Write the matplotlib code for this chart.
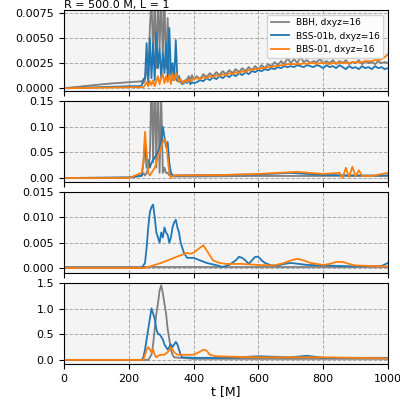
import matplotlib
matplotlib.use("Agg")
import matplotlib.pyplot as plt

# ---- Panel 1 data ----
t1 = list(range(0, 200, 10)) + list(range(200, 405, 5)) + list(range(410, 1010, 10))
p1_bbh = [0,0.00003,0.00006,0.0001,0.00013,0.00016,0.0002,0.00023,0.00026,0.0003,0.00033,0.00036,0.0004,0.00042,0.00045,0.00048,0.0005,0.00052,0.00055,0.00057,
 0.0006,0.0006,0.00062,0.00063,0.00064,0.00065,0.00066,0.00068,0.0007,0.0005,0.0008,0.002,0.001,0.006,0.009,0.003,0.009,0.002,0.009,0.004,0.009,0.003,0.009,0.002,0.007,0.001,0.002,0.0008,0.0012,0.0009,0.0007,0.0009,0.0008,0.0006,0.0007,0.0008,0.0009,0.0012,0.0008,0.0013,0.0009,
 0.0012,0.0009,0.0014,0.0011,0.0015,0.0012,0.0016,0.0013,0.0017,0.0014,0.0018,0.0015,0.0019,0.0016,0.0020,0.0017,0.0021,0.0018,0.0022,0.0019,0.0023,0.0020,0.0024,0.0022,0.0026,0.0023,0.0027,0.0024,0.0030,0.0025,0.0029,0.0025,0.0031,0.0026,0.0028,0.0025,0.0027,0.0026,0.0029,0.0025,0.0027,0.0025,0.0028,0.0024,0.0027,0.0025,0.0028,0.0024,0.0026,0.0025,0.0028,0.0024,0.0027,0.0025,0.0026,0.0024,0.0027,0.0025,0.0026,0.0025]
p1_bss01b = [0,0,0.00001,0.00002,0.00003,0.00004,0.00005,0.00006,0.00007,0.00008,0.00009,0.0001,0.00011,0.00012,0.00013,0.00014,0.00015,0.00016,0.00017,0.00018,
 0.0002,0.0002,0.0002,0.0002,0.0002,0.0002,0.0002,0.0002,0.0003,0.0009,0.001,0.0045,0.0005,0.005,0.001,0.0045,0.0008,0.0055,0.002,0.004,0.001,0.0035,0.0015,0.0045,0.001,0.006,0.0015,0.0025,0.0008,0.0048,0.0008,0.0012,0.0006,0.0004,0.0005,0.0007,0.0005,0.0009,0.0004,0.0006,0.0005,
 0.0006,0.0008,0.0007,0.0010,0.0008,0.0011,0.0009,0.0012,0.0010,0.0013,0.0011,0.0014,0.0012,0.0015,0.0013,0.0016,0.0014,0.0017,0.0016,0.0018,0.0017,0.0019,0.0018,0.0020,0.0019,0.0021,0.0020,0.0022,0.0021,0.0022,0.0021,0.0023,0.0022,0.0021,0.0023,0.0022,0.0021,0.0023,0.0022,0.0020,0.0023,0.0021,0.0022,0.0020,0.0023,0.0021,0.0019,0.0022,0.0020,0.0021,0.0019,0.0022,0.0020,0.0021,0.0019,0.0022,0.0020,0.0021,0.0019,0.0020]
p1_bbs01 = [0,0,0,0.00001,0.00001,0.00002,0.00002,0.00003,0.00003,0.00004,0.00004,0.00005,0.00005,0.00006,0.00006,0.00007,0.00007,0.00008,0.00008,0.00009,
 0.0001,0.0001,0.0001,0.0001,0.0001,0.0001,0.0001,0.0001,0.0001,0.0001,0.0003,0.0006,0.0002,0.0007,0.0003,0.0008,0.0002,0.0007,0.0012,0.0004,0.001,0.0014,0.0005,0.0012,0.0006,0.0013,0.0004,0.0014,0.0008,0.0015,0.0012,0.0006,0.0009,0.0005,0.0006,0.0008,0.0006,0.0009,0.0007,0.0008,0.0009,
 0.0010,0.0009,0.0011,0.0010,0.0012,0.0011,0.0013,0.0012,0.0014,0.0013,0.0015,0.0014,0.0016,0.0015,0.0017,0.0016,0.0018,0.0018,0.0019,0.0019,0.0020,0.0020,0.0021,0.0021,0.0022,0.0022,0.0023,0.0023,0.0024,0.0024,0.0024,0.0024,0.0024,0.0025,0.0024,0.0025,0.0025,0.0024,0.0025,0.0025,0.0025,0.0024,0.0025,0.0025,0.0025,0.0026,0.0025,0.0025,0.0026,0.0026,0.0026,0.0026,0.0027,0.0027,0.0027,0.0028,0.0028,0.0029,0.0031,0.0034]

# ---- Panel 2 data (knots) ----
t2_bbh = [0,200,240,245,250,255,260,265,270,275,280,285,290,295,300,305,310,315,320,325,330,335,340,400,600,800,1000]
p2_bbh = [0,0.001,0.004,0.01,0.005,0.01,0.02,0.04,0.2,0.03,0.2,0.02,0.2,0.01,0.16,0.01,0.02,0.01,0.01,0.005,0.01,0.005,0.003,0.003,0.004,0.004,0.004]
t2_bss = [0,200,240,245,250,255,260,265,270,275,280,285,290,295,300,305,310,315,320,325,330,335,340,500,600,700,750,800,900,1000]
p2_bss = [0,0.001,0.005,0.03,0.07,0.02,0.035,0.02,0.03,0.035,0.04,0.045,0.05,0.06,0.07,0.1,0.08,0.06,0.07,0.03,0.01,0.005,0.005,0.006,0.007,0.01,0.008,0.006,0.005,0.005]
t2_bbs = [0,200,240,245,250,255,260,265,270,275,280,285,290,295,300,305,310,315,320,325,330,335,340,500,600,720,800,850,860,870,880,890,900,910,920,950,1000]
p2_bbs = [0,0.0,0.01,0.03,0.09,0.05,0.01,0.005,0.01,0.015,0.02,0.03,0.04,0.05,0.06,0.07,0.075,0.07,0.04,0.01,0.0,0.003,0.005,0.006,0.008,0.012,0.008,0.01,0.0,0.02,0.002,0.022,0.003,0.015,0.004,0.004,0.01]

# ---- Panel 3 data (knots) ----
t3_bbh = [0,1000]
p3_bbh = [0.0001,0.0001]
t3_bss = [0,240,250,255,260,265,270,275,280,285,290,295,300,305,310,315,320,325,330,335,340,345,350,355,360,365,370,380,400,420,440,460,480,490,510,530,540,550,560,570,580,590,600,610,620,640,660,680,700,750,800,900,980,1000]
p3_bss = [0,0,0.001,0.004,0.008,0.011,0.012,0.0125,0.01,0.007,0.006,0.005,0.007,0.006,0.008,0.007,0.0065,0.005,0.006,0.008,0.009,0.0095,0.008,0.007,0.005,0.004,0.003,0.002,0.002,0.0015,0.001,0.0007,0.0004,0.0002,0.0006,0.0015,0.0022,0.002,0.0015,0.0008,0.0015,0.0022,0.0022,0.0015,0.001,0.0005,0.0005,0.0008,0.001,0.0006,0.0005,0.0003,0.0004,0.001]
t3_bbs = [0,250,300,320,340,360,380,390,400,410,420,430,440,450,460,480,500,550,600,650,680,700,720,740,760,780,800,820,840,860,880,900,950,1000]
p3_bbs = [0,0,0.001,0.0015,0.002,0.0025,0.003,0.0028,0.003,0.0035,0.004,0.0045,0.0035,0.0025,0.0015,0.001,0.0008,0.0008,0.0006,0.0005,0.001,0.0015,0.0018,0.0015,0.001,0.0008,0.0006,0.0008,0.0012,0.0012,0.0008,0.0005,0.0004,0.0003]

# ---- Panel 4 data (knots) ----
t4_bbh = [0,260,265,270,275,280,285,290,295,300,305,310,315,320,325,330,335,340,400,1000]
p4_bbh = [0,0,0.05,0.1,0.3,0.6,0.9,1.1,1.35,1.45,1.3,1.1,0.9,0.6,0.4,0.2,0.1,0.05,0.02,0.02]
t4_bss = [0,240,245,250,255,260,265,270,275,280,285,290,295,300,305,310,315,320,325,330,335,340,345,350,355,360,365,400,500,600,700,750,800,1000]
p4_bss = [0,0,0.05,0.2,0.4,0.6,0.8,1.0,0.9,0.8,0.6,0.5,0.5,0.45,0.4,0.3,0.25,0.2,0.25,0.3,0.25,0.3,0.35,0.3,0.2,0.1,0.05,0.04,0.04,0.07,0.05,0.08,0.04,0.04]
t4_bbs = [0,245,250,255,260,265,270,275,280,285,290,300,310,320,325,330,335,340,350,400,420,430,440,450,470,600,800,1000]
p4_bbs = [0,0,0.1,0.2,0.25,0.2,0.15,0.2,0.1,0.05,0.08,0.1,0.1,0.15,0.2,0.25,0.2,0.15,0.1,0.1,0.16,0.2,0.18,0.1,0.07,0.05,0.05,0.03]

labels = ["BBH, dxyz=16", "BSS-01b, dxyz=16", "BBS-01, dxyz=16"]
colors = ["tab:gray", "tab:blue", "tab:orange"]

fig, axes = plt.subplots(4, 1, figsize=(4, 4), dpi=100, sharex=True)
panels = [
    [(t1, p1_bbh), (t1, p1_bss01b), (t1, p1_bbs01)],
    [(t2_bbh, p2_bbh), (t2_bss, p2_bss), (t2_bbs, p2_bbs)],
    [(t3_bbh, p3_bbh), (t3_bss, p3_bss), (t3_bbs, p3_bbs)],
    [(t4_bbh, p4_bbh), (t4_bss, p4_bss), (t4_bbs, p4_bbs)],
]
ylabels = [r'$\frac{|M_{\rm ADM}-M_{\rm ADM,0}|}{M_{\rm ADM,0}}$',
           r'$\frac{|M_{\rm ADM,\chi}-M_{\rm ADM,\chi,0}|}{M_{\rm ADM,\chi,0}}$',
           r'$|P_{\rm ADM}-P_{\rm ADM,0}|/M$',
           r'$\frac{|J_{\rm ADM}-J_{\rm ADM,0}|}{|J_{\rm ADM,0}|}$']
ylims = [(-0.0003, 0.0078), (-0.008, 0.15), (-0.001, 0.015), (-0.08, 1.5)]
yticks = [[0, 0.0025, 0.005, 0.0075], [0, 0.05, 0.1, 0.15], [0, 0.005, 0.01, 0.015], [0, 0.5, 1.0, 1.5]]
ylabfs = [7.5, 6.5, 8.5, 7.5]
for ax, pan, yl, lim, yt, fs in zip(axes, panels, ylabels, ylims, yticks, ylabfs):
    ax.set_facecolor('#f4f4f4')
    for (tt, yy), c, lab in zip(pan, colors, labels):
        ax.plot(tt, yy, color=c, lw=1.3, label=lab)
    ax.set_ylim(*lim)
    ax.set_yticks(yt)
    ax.set_ylabel(yl, fontsize=fs, labelpad=2)
    ax.grid(True, ls='--', color='#aaaaaa', lw=0.7)
    ax.tick_params(labelsize=8)
axes[0].set_yticklabels(['0.0000', '0.0025', '0.0050', '0.0075'])
axes[1].set_yticklabels(['0.00', '0.05', '0.10', '0.15'])
axes[2].set_yticklabels(['0.000', '0.005', '0.010', '0.015'])
axes[3].set_yticklabels(['0.0', '0.5', '1.0', '1.5'])
axes[3].set_xlim(0, 1000)
axes[3].set_xlabel('t [M]', fontsize=9, labelpad=1)
axes[0].set_title('R = 500.0 M, L = 1', fontsize=8, loc='left', pad=1)
axes[0].legend(fontsize=6.5, loc='upper right')
fig.subplots_adjust(left=0.16, right=0.97, top=0.975, bottom=0.09, hspace=0.12)
for ax in axes:
    ax.yaxis.set_label_coords(-0.2, 0.5)
fig.savefig('out.png')
